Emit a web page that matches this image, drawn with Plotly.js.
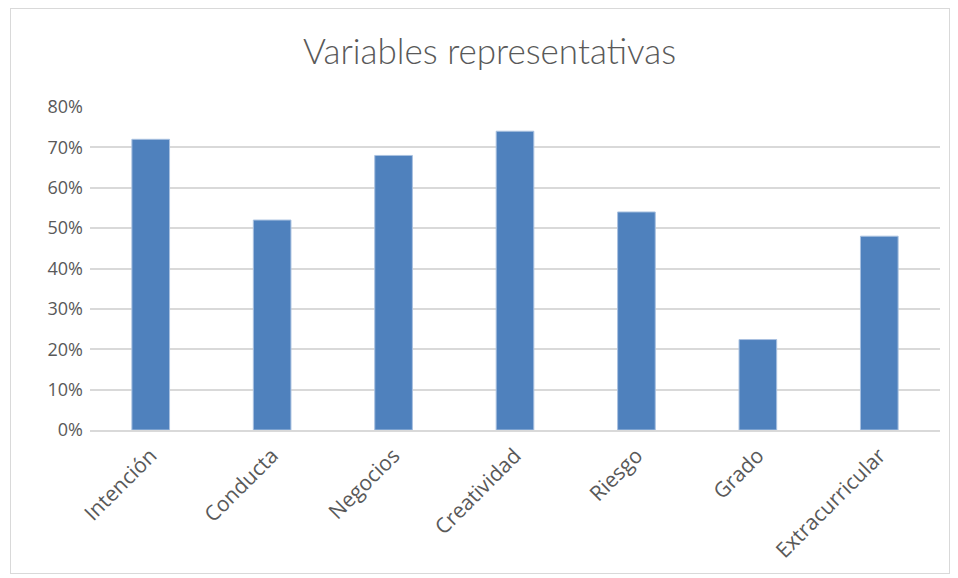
<!DOCTYPE html>
<html><head><meta charset="utf-8">
<script src="https://cdn.plot.ly/plotly-3.0.1.min.js"></script>
<style>
html,body{margin:0;padding:0;background:#fff;}
#frame{position:absolute;left:10px;top:8px;width:940px;height:566px;border:1px solid #d9d9d9;box-sizing:border-box;}
#chart{position:absolute;left:0;top:0;width:958px;height:578px;}
</style></head>
<body>
<div id="frame"></div>
<div id="chart"></div>
<script>
const categories = ["Intención","Conducta","Negocios","Creatividad","Riesgo","Grado","Extracurricular"];
const values = [0.72, 0.52, 0.68, 0.74, 0.54, 0.224, 0.48];
const yTicks = [0,0.1,0.2,0.3,0.4,0.5,0.6,0.7,0.8];
const titleText = "Variables representativas";

const tickFam = "'Open Sans', 'Noto Sans', sans-serif";
const titleFam = "Lato, 'Open Sans', sans-serif";
Plotly.newPlot('chart', [{
  type:'bar', x:categories, y:values,
  marker:{color:'#4f81bd', line:{color:'#a9c1e0', width:1}},
  width:0.31, hoverinfo:'none'
}], {
  width:958, height:578,
  paper_bgcolor:'rgba(0,0,0,0)', plot_bgcolor:'rgba(0,0,0,0)',
  margin:{l:90, r:18, t:107, b:148},
  title:{text:titleText, font:{family:titleFam, size:35, weight:300, color:'#595959'}, x:0.511, xanchor:'center', y:0.91, yanchor:'middle'},
  xaxis:{tickangle:-45, tickfont:{family:tickFam, size:21, color:'#595959'}, showline:true, linecolor:'#d9d9d9', linewidth:2, ticks:'', showgrid:false, ticklabelstandoff:3},
  yaxis:{range:[0,0.8], tickvals:yTicks, tickformat:'.0%', tickfont:{family:tickFam, size:18, color:'#595959'}, gridcolor:'#d9d9d9', gridwidth:2, zeroline:false, showline:false, ticks:'', ticklabelstandoff:6},
  showlegend:false
}, {staticPlot:true});
</script>
</body></html>
